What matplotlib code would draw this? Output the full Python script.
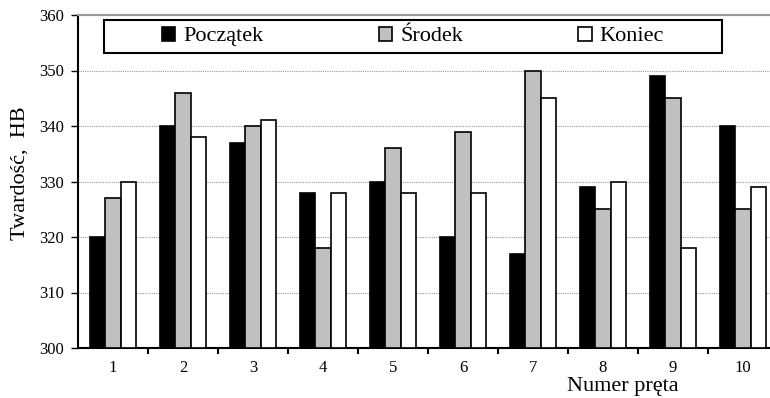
import numpy as np
import matplotlib
matplotlib.use('Agg')
from matplotlib import pyplot as plt
from matplotlib.patches import Rectangle

# data
bars = ['1', '2', '3', '4', '5', '6', '7', '8', '9', '10']
poczatek = [320, 340, 337, 328, 330, 320, 317, 329, 349, 340]
srodek = [327, 346, 340, 318, 336, 339, 350, 325, 345, 325]
koniec = [330, 338, 341, 328, 328, 328, 345, 330, 318, 329]
series = ['Początek', 'Środek', 'Koniec']
colors = ['black', '#c0c0c0', 'white']
yticks = [300, 310, 320, 330, 340, 350, 360]

plt.rcParams['font.family'] = ['Liberation Serif', 'DejaVu Serif']

fig = plt.figure(figsize=(7.7, 3.98), dpi=100)
ax = fig.add_axes([78/770, 50/398, 700/770, 333/398])

x = np.arange(1, len(bars) + 1)
w = 0.22
for k, vals in enumerate([poczatek, srodek, koniec]):
    ax.bar(x + (k - 1) * w, np.array(vals) - 300, w, bottom=300,
           color=colors[k], edgecolor='black', linewidth=1.2,
           label=series[k], zorder=3)

ax.set_xlim(0.5, 10.5)
ax.set_ylim(300, 360)
ax.set_yticks(yticks)
ax.tick_params(axis='y', labelsize=12, direction='out', length=5, width=1, pad=5)
# ticks sit between groups, labels in the middle of each group
ax.set_xticks(np.arange(1.5, 10.5, 1))
ax.set_xticklabels([])
ax.set_xticks(x, minor=True)
ax.set_xticklabels(bars, minor=True)
ax.tick_params(axis='x', which='major', direction='out', length=4, width=1.5)
ax.tick_params(axis='x', which='minor', length=0, labelsize=12, pad=9)

ax.yaxis.grid(True, color='#999999', linestyle=(0, (1, 1)), linewidth=0.8, zorder=0)
ax.spines['left'].set_linewidth(1.5)
ax.spines['bottom'].set_linewidth(1.5)
ax.spines['top'].set_color('#999999')
ax.spines['top'].set_linewidth(1.5)
ax.spines['right'].set_visible(False)

# legend box
fig.patches.append(Rectangle((104/770, 1 - 53/398), 618/770, 33/398,
                             transform=fig.transFigure, facecolor='white',
                             edgecolor='black', linewidth=1.5, zorder=5))
leg = fig.legend(loc='center', bbox_to_anchor=(413/770, 1 - 36.5/398),
                 ncol=3, frameon=False, fontsize=16, handlelength=0.6,
                 handleheight=0.6, handletextpad=0.35, columnspacing=5.2,
                 borderpad=0)
leg.set_zorder(6)

fig.text(20/770, 1 - 173.5/398, 'Twardość,  HB', rotation=90,
         ha='center', va='center', fontsize=16)
fig.text(623/770, 1 - 386/398, 'Numer pręta', ha='center', va='center',
         fontsize=16)

fig.savefig('out.png', dpi=100)
